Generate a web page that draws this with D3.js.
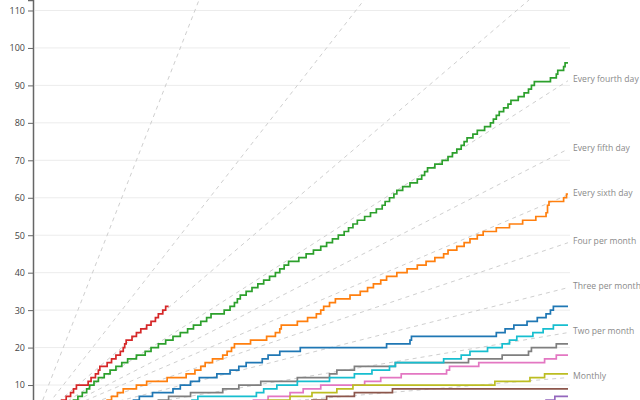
<!DOCTYPE html>
<html>
<head>
<meta charset="utf-8">
<script src="https://cdn.jsdelivr.net/npm/d3@7"></script>
<style>
  body { margin: 0; background: #fff; }
  svg { display: block; font-family: "Open Sans", "Noto Sans", sans-serif; }
</style>
</head>
<body>
<div id="chartdiv"></div>
<script>
/* --- data: day of year on which each series reached count 1, 2, 3 ... --- */

let blueDays   = [15, 30, 42, 52, 60, 68, 72, 81, 95, 100, 107, 113, 125, 134, 140, 145, 156, 160, 168, 182,
                  241, 257, 258, 316, 322, 328, 337, 344, 350, 353, 355]
let orangeDays = [10, 18, 26, 34, 42, 50, 53, 57, 61, 70, 77, 91, 104, 110, 114, 117, 122, 129, 132, 135,
                  137, 148, 159, 165, 168, 169, 180, 187, 193, 196, 198, 202, 206, 216, 223, 228, 232, 237, 241, 248,
                  255, 262, 268, 274, 280, 283, 289, 294, 298, 303, 307, 316, 325, 334, 343, 350, 351, 351, 352, 362, 364]
let greenDays  = [3, 8, 12, 17, 22, 27, 30, 33, 36, 38, 41, 44, 48, 52, 56, 60, 64, 70, 76, 80,
                  85, 90, 95, 100, 105, 109, 114, 118, 121, 130, 134, 137, 139, 141, 145, 149, 153, 157, 161, 165,
                  168, 171, 174, 181, 186, 191, 196, 200, 204, 208, 212, 215, 218, 221, 226, 230, 234, 238, 240, 243,
                  246, 248, 252, 257, 262, 265, 267, 269, 274, 279, 283, 286, 289, 292, 294, 296, 300, 303, 308, 312,
                  314, 316, 318, 321, 324, 326, 331, 335, 338, 340, 342, 353, 357, 358, 362, 363]
let redDays    = [2, 5, 9, 13, 16, 19, 22, 25, 27, 29, 37, 39, 42, 44, 45, 50, 53, 56, 59, 61,
                  62, 63, 67, 70, 73, 77, 80, 83, 85, 88, 90]
let purpleDays = [300, 310, 320, 330, 340, 350, 356]
let brownDays  = [50, 90, 120, 150, 170, 190, 200, 219, 245]
let pinkDays   = [30, 60, 90, 110, 130, 150, 160, 175, 184, 196, 226, 237, 251, 282, 284, 304, 349, 357]
let grayDays   = [20, 40, 55, 65, 75, 85, 92, 107, 129, 140, 155, 180, 202, 207, 219, 247, 297, 320, 338, 340, 357]
let oliveDays  = [40, 80, 110, 130, 150, 160, 175, 190, 207, 218, 315, 339, 349]
let cyanDays   = [20, 40, 60, 80, 100, 108, 112, 152, 157, 166, 180, 202, 219, 231, 243, 247, 280, 292, 298, 310,
                  320, 325, 330, 341, 348, 355]

let seriesDays = [blueDays, orangeDays, greenDays, redDays, purpleDays, brownDays, pinkDays, grayDays, oliveDays, cyanDays]
let seriesEnd  = [365, 365, 365, 92, 365, 365, 365, 365, 365, 365]

// reference pace lines: label and count reached after a full year
let paceLabels = ["Every day", "Every other day", "Every third day", "Every fourth day", "Every fifth day",
                  "Every sixth day", "Four per month", "Three per month", "Two per month", "Monthly"]
let pacePerYear = [365, 182.5, 121.7, 91.25, 73, 60.8, 48, 36, 24, 12]

let yTicks = [10, 20, 30, 40, 50, 60, 70, 80, 90, 100, 110]

/* ---------------------------------------------------------------------- */

let width = 640
let height = 400
let yearDays = 365

function drawChart(){
   let svg = d3.select('#chartdiv')
      .append('svg')
      .attr("width", width)
      .attr("height", height)

   let xscale = d3.scaleLinear()
      .domain([0, yearDays])
      .range([34, 568])
   let yscale = d3.scaleLinear()
      .domain([0, 112.8])
      .range([422.5, 0])

   svg.append("clipPath").attr("id", "plotclip")
      .append("rect")
      .attr("x", 34).attr("y", 0)
      .attr("width", 540).attr("height", 423)

   // grid
   svg.append("g")
      .selectAll("line")
      .data(yTicks)
      .join("line")
      .attr("x1", 35)
      .attr("x2", 570)
      .attr("y1", d => yscale(d))
      .attr("y2", d => yscale(d))
      .attr("stroke", "#ececec")
      .attr("stroke-width", 1)

   // y axis
   let y_axis = d3.axisLeft(yscale).tickValues(yTicks).tickSize(5).tickPadding(3)
   let yg = svg.append("g")
      .attr("transform", `translate(33, 0)`)
      .call(y_axis)
   yg.select(".domain").attr("stroke", "#666").attr("stroke-width", 1.5)
   yg.selectAll(".tick line").attr("stroke", "#666")
   yg.selectAll(".tick text")
      .attr("fill", "#444")
      .attr("font-size", "9px")
      .attr("font-family", "'Open Sans', 'Noto Sans', sans-serif")

   // pace lines
   let paceG = svg.append("g").attr("clip-path", "url(#plotclip)")
   pacePerYear.forEach((total, i) => {
      paceG.append("line")
         .attr("x1", xscale(0))
         .attr("y1", yscale(0))
         .attr("x2", xscale(yearDays))
         .attr("y2", yscale(total))
         .attr("stroke", "#cfcfcf")
         .attr("stroke-width", 1)
         .attr("stroke-dasharray", "4,4")
      if (yscale(total) > 0) {
         svg.append("text")
            .attr("x", xscale(yearDays) + 5)
            .attr("y", yscale(total) - 1.5)
            .attr("dy", "0.35em")
            .attr("fill", "#8a8a8a")
            .attr("font-size", "8.6px")
            .text(paceLabels[i])
      }
   })

   // cumulative step lines
   let line = d3.line()
      .x(d => xscale(d[0]))
      .y(d => yscale(d[1]))
      .curve(d3.curveStepAfter)

   let linesG = svg.append("g")
   seriesDays.forEach((days, i) => {
      let pts = [[0, 0]]
      days.forEach((day, n) => pts.push([day, n + 1]))
      pts.push([seriesEnd[i], days.length])
      linesG.append("path")
         .attr("d", line(pts))
         .attr("fill", "none")
         .attr("stroke", d3.schemeCategory10[i])
         .attr("stroke-width", 1.7)
   })
}
drawChart()
</script>
</body>
</html>
